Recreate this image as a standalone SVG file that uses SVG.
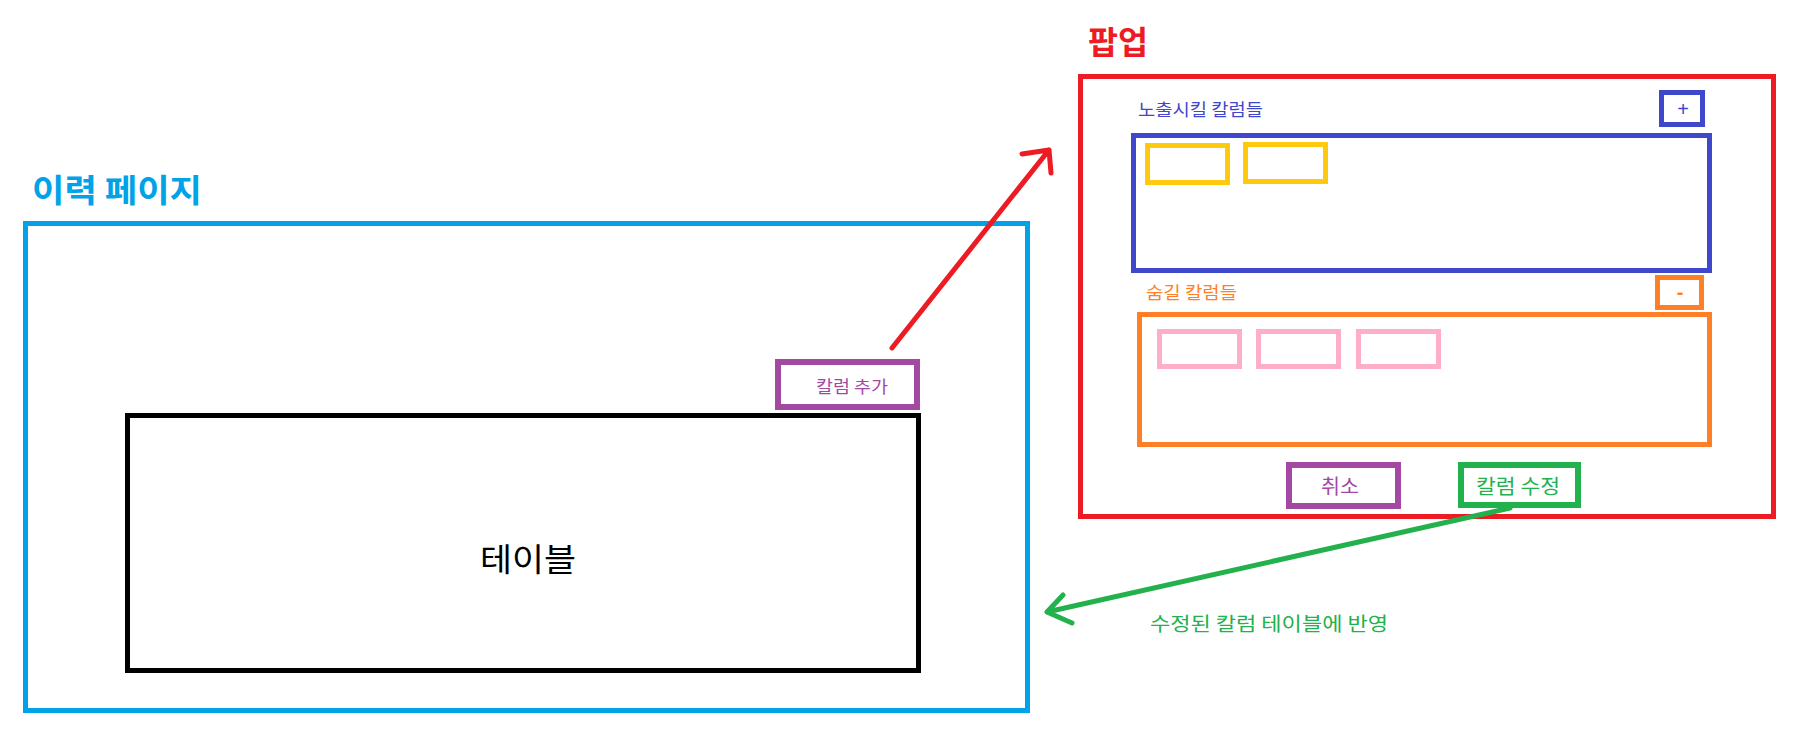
<svg xmlns="http://www.w3.org/2000/svg" width="1813" height="735" viewBox="0 0 1813 735">
  <style>
    text { font-family: "Noto Sans CJK KR", "Noto Sans", sans-serif; dominant-baseline: central; }
    .box { fill: none; stroke-width: 5; }
    .title { font-weight: bold; font-size: 32px; }
    .lbl { font-size: 17px; }
    .conn { fill: none; stroke-width: 5; stroke-linecap: round; stroke-linejoin: round; }
  </style>
  <rect width="1813" height="735" fill="#ffffff"/>

  <g id="history-page">
    <text class="title" x="32" y="188" fill="#00a2e8" textLength="170" lengthAdjust="spacingAndGlyphs">이력 페이지</text>
    <rect class="box" x="25.5" y="223.5" width="1002" height="487" stroke="#00a2e8"/>
  </g>

  <g id="table">
    <rect class="box" x="127.5" y="415.5" width="791" height="255" stroke="#000000"/>
    <text x="480" y="557" font-size="32" fill="#000000" textLength="96" lengthAdjust="spacingAndGlyphs">테이블</text>
  </g>

  <g id="add-column-button">
    <rect x="778" y="362" width="139" height="45" fill="none" stroke="#a349a4" stroke-width="6"/>
    <text class="lbl" x="816" y="385" fill="#a349a4" textLength="72" lengthAdjust="spacingAndGlyphs">칼럼 추가</text>
  </g>

  <g id="popup">
    <text class="title" x="1088" y="40" fill="#ed1c24" textLength="60" lengthAdjust="spacingAndGlyphs">팝업</text>
    <rect class="box" x="1080.5" y="76.5" width="693" height="440" stroke="#ed1c24"/>
  </g>

  <g id="visible-columns">
    <text class="lbl" x="1138" y="108" fill="#3f48cc" textLength="125" lengthAdjust="spacingAndGlyphs">노출시킬 칼럼들</text>
    <rect class="box" x="1133.5" y="135.5" width="576" height="135" stroke="#3f48cc"/>
    <rect class="box" x="1147.5" y="145.5" width="80" height="37" stroke="#ffc90e"/>
    <rect class="box" x="1245.5" y="144.5" width="80" height="37" stroke="#ffc90e"/>
  </g>

  <g id="plus-button">
    <rect class="box" x="1661.5" y="92.5" width="41" height="32" stroke="#3f48cc"/>
    <text x="1683" y="109" font-size="20" fill="#3f48cc" text-anchor="middle" style="font-family:'Liberation Sans',sans-serif">+</text>
  </g>

  <g id="hidden-columns">
    <text class="lbl" x="1146" y="291" fill="#ff7f27" textLength="91" lengthAdjust="spacingAndGlyphs">숨길 칼럼들</text>
    <rect class="box" x="1139.5" y="314.5" width="570" height="130" stroke="#ff7f27"/>
    <rect class="box" x="1159.5" y="331.5" width="80" height="35" stroke="#ffaec9"/>
    <rect class="box" x="1258.5" y="331.5" width="80" height="35" stroke="#ffaec9"/>
    <rect class="box" x="1358.5" y="331.5" width="80" height="35" stroke="#ffaec9"/>
  </g>

  <g id="minus-button">
    <rect class="box" x="1657.5" y="277.5" width="44" height="30" stroke="#ff7f27"/>
    <text x="1680" y="292" font-size="20" font-weight="bold" fill="#ff7f27" text-anchor="middle" style="font-family:'Liberation Sans',sans-serif">-</text>
  </g>

  <g id="cancel-button">
    <rect x="1289" y="465" width="109" height="41" fill="none" stroke="#a349a4" stroke-width="6"/>
    <text x="1321" y="485" font-size="20" fill="#a349a4" textLength="38" lengthAdjust="spacingAndGlyphs">취소</text>
  </g>

  <g id="edit-column-button">
    <rect x="1461" y="465" width="117" height="40" fill="none" stroke="#22b14c" stroke-width="6"/>
    <text x="1476" y="485" font-size="20" fill="#22b14c" textLength="84" lengthAdjust="spacingAndGlyphs">칼럼 수정</text>
  </g>

  <g id="connectors">
    <path class="conn" stroke="#ed1c24" d="M892 348 L1049 150 M1022 154 L1049 150 L1051 173"/>
    <path class="conn" stroke="#22b14c" d="M1510 508 L1047 612 M1063 595 L1047 612 L1072 623"/>
    <text x="1150" y="622" font-size="19" fill="#22b14c" textLength="238" lengthAdjust="spacingAndGlyphs">수정된 칼럼 테이블에 반영</text>
  </g>
</svg>
